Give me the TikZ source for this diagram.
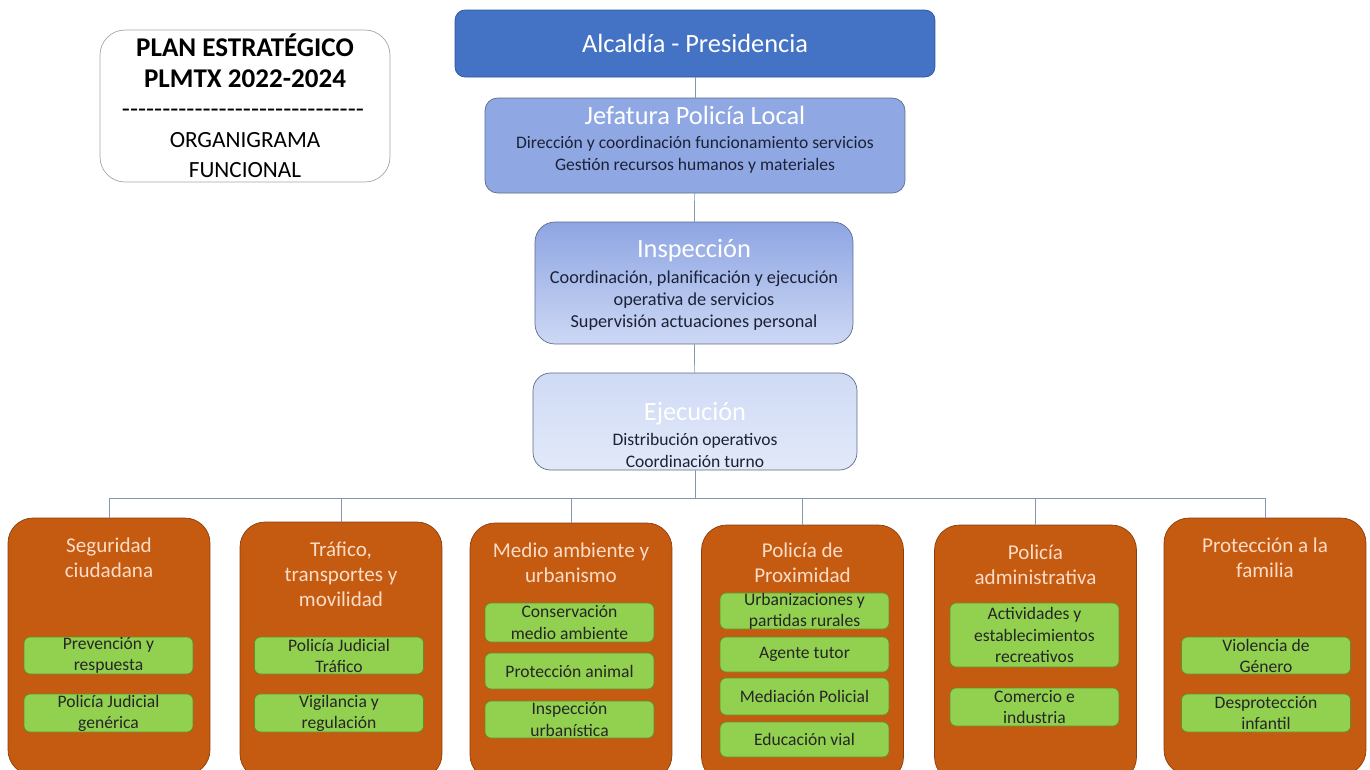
\documentclass[tikz,border=0pt]{standalone}
\usepackage{fontspec}
\setmainfont{Carlito}
\newfontfamily\dashfont[Ligatures=TeXOff]{Carlito}
\usepackage{tikz}
\usetikzlibrary{positioning}
\definecolor{orgblue}{HTML}{4472C4}
\definecolor{orgbluedark}{HTML}{2F5597}
\definecolor{orgjef}{HTML}{8FA8E3}
\definecolor{orginsptop}{HTML}{8EA5E3}
\definecolor{orginspbot}{HTML}{CDD8F4}
\definecolor{orgejetop}{HTML}{CFDAF5}
\definecolor{orgejebot}{HTML}{E2E9F9}
\definecolor{orgframe}{HTML}{5B6B8C}
\definecolor{orgtext}{HTML}{1C2236}
\definecolor{orgorange}{HTML}{C55A11}
\definecolor{orgorangedark}{HTML}{8C3D0A}
\definecolor{orgpeach}{HTML}{FBDCC6}
\definecolor{orggreen}{HTML}{92D050}
\definecolor{orggreendark}{HTML}{5F8F2E}
\definecolor{orgconn}{HTML}{8497B0}

\tikzset{
  planbox/.style={draw=gray!70, fill=white, rounded corners=0.5cm, minimum width=5.8cm, minimum height=3.04cm},
  plantext/.style={inner sep=0pt, anchor=base},
  headbox/.style={draw=orgframe, thin, rounded corners=0.25cm},
  headtext/.style={align=center, text=orgtext, inner sep=0pt, font=\fontsize{10}{12.5}\selectfont},
  areabox/.style={draw=orgorangedark, fill=orgorange, rounded corners=0.5cm, minimum width=4.04cm, minimum height=5.14cm},
  areatitle/.style={anchor=north, align=center, text=orgpeach, font=\fontsize{12}{14.3}\selectfont},
  taskbox/.style={draw=orggreendark, fill=orggreen, rounded corners=0.12cm, minimum width=3.38cm, align=center,
    inner sep=0pt, text=black!85, font=\fontsize{10}{12}\selectfont},
  conn/.style={draw=orgconn, thin}
}
\newcommand{\boxtitle}{\fontsize{15}{17}\selectfont\color{white}}
\newcommand{\boxbody}{\fontsize{10}{12.5}\selectfont\color{orgtext}}

\begin{document}
\begin{tikzpicture}[x=0.02cm, y=-0.02cm]
    \useasboundingbox (0,0) rectangle (1370,769);
    \clip (0,0) rectangle (1370,769);

    % Plan box
    \node[planbox] (plan) at (245,106) {};
    \node[plantext, font=\fontsize{15.4}{18}\selectfont\bfseries] (plan1) at (245,56) {PLAN ESTRATÉGICO};
    \node[plantext, font=\fontsize{15.4}{18}\selectfont\bfseries] (plan2) at (245,87) {PLMTX 2022-2024};
    \node[plantext, font=\fontsize{15}{18}\selectfont\dashfont] (plan3) at (243,117) {------------------------------};
    \node[plantext, font=\fontsize{13.2}{16}\selectfont] (plan4) at (245,147.5) {ORGANIGRAMA};
    \node[plantext, font=\fontsize{13.2}{16}\selectfont] (plan5) at (245,177.5) {FUNCIONAL};

    % Command chain
    \node[headbox, draw=orgbluedark, fill=orgblue, rounded corners=0.2cm, minimum width=9.6cm, minimum height=1.34cm,
      font=\fontsize{15}{17}\selectfont, text=white] (alcaldia) at (695,43.5) {Alcaldía - Presidencia};

    \node[headbox, fill=orgjef, minimum width=8.4cm, minimum height=1.9cm] (jefatura) at (695,145.5) {};
    \node[headtext] (jefatura text) at (695,140)
      {\boxtitle Jefatura Policía Local\\[1pt]\boxbody Dirección y coordinación funcionamiento servicios\\Gestión recursos humanos y materiales};

    \node[headbox, top color=orginsptop, bottom color=orginspbot, rounded corners=0.4cm, minimum width=6.36cm, minimum height=2.44cm] (inspeccion) at (694,283) {};
    \node[headtext, font=\fontsize{10.4}{12.5}\selectfont] (inspeccion text) at (694,285)
      {\boxtitle Inspección\\[2.5pt]\fontsize{10.4}{12.5}\selectfont\color{orgtext} Coordinación, planificación y ejecución\\operativa de servicios\\Supervisión actuaciones personal};

    \node[headbox, top color=orgejetop, bottom color=orgejebot, rounded corners=0.35cm, minimum width=6.48cm, minimum height=1.94cm] (ejecucion) at (695,421.5) {};
    \node[headtext] (ejecucion text) at (695,435)
      {\boxtitle Ejecución\\[2pt]\boxbody Distribución operativos\\Coordinación turno};

    % Areas
    \node[areabox] (seguridad) at (109,646.5) {};
    \node[areabox] (trafico) at (341,650.5) {};
    \node[areabox] (medio) at (571,651.5) {};
    \node[areabox] (proximidad) at (802.5,653.5) {};
    \node[areabox] (administrativa) at (1035.5,653.5) {};
    \node[areabox] (familia) at (1265,646.5) {};

    \node[areatitle, below=8pt of seguridad.north] (t1) {Seguridad\\ciudadana};
    \node[areatitle, below=8pt of trafico.north] (t2) {Tráfico,\\transportes y\\movilidad};
    \node[areatitle, below=8pt of medio.north] (t3) {Medio ambiente y\\urbanismo};
    \node[areatitle, below=7pt of proximidad.north] (t4) {Policía de\\Proximidad};
    \node[areatitle, below=8pt of administrativa.north] (t5) {Policía\\administrativa};
    \node[areatitle, below=8pt of familia.north] (t6) {Protección a la\\familia};

    % Tasks
    \node[taskbox, minimum height=0.74cm] (s1) at (108.5,655.5) {Prevención y\\respuesta};
    \node[taskbox, minimum height=0.76cm] (s2) at (108.5,713) {Policía Judicial\\genérica};

    \node[taskbox, minimum height=0.74cm] (r1) at (339,655.5) {Policía Judicial\\Tráfico};
    \node[taskbox, minimum height=0.76cm] (r2) at (339,713) {Vigilancia y\\regulación};

    \node[taskbox, minimum height=0.78cm] (m1) at (569.5,622.5) {Conservación\\medio ambiente};
    \node[taskbox, minimum height=0.72cm] (m2) at (569.5,671) {Protección animal};
    \node[taskbox, minimum height=0.74cm] (m3) at (569.5,719.5) {Inspección\\urbanística};

    \node[taskbox, minimum height=0.72cm] (p1) at (804.5,611) {Urbanizaciones y\\partidas rurales};
    \node[taskbox, minimum height=0.70cm] (p2) at (804.5,654.5) {Agente tutor};
    \node[taskbox, minimum height=0.74cm] (p3) at (804.5,696.5) {Mediación Policial};
    \node[taskbox, minimum height=0.70cm] (p4) at (804.5,739.5) {Educación vial};

    \node[taskbox, minimum height=1.28cm] (a1) at (1034.5,635) {Actividades y\\establecimientos\\recreativos};
    \node[taskbox, minimum height=0.76cm] (a2) at (1034.5,707) {Comercio e\\industria};

    \node[taskbox, minimum height=0.74cm] (f1) at (1266,655.5) {Violencia de\\Género};
    \node[taskbox, minimum height=0.76cm] (f2) at (1266,713) {Desprotección\\infantil};

    % Connectors
    \draw[conn] (alcaldia) -- (jefatura);
    \draw[conn] (jefatura) -- (inspeccion);
    \draw[conn] (inspeccion) -- (ejecucion);
    \coordinate (bus) at (695,498);
    \draw[conn] (ejecucion.south) -- (bus);
    \draw[conn] (seguridad.north) |- (bus) -| (familia.north);
    \foreach \a in {trafico,medio,proximidad,administrativa}
      \draw[conn] (\a.north) -- (\a.north |- bus);
\end{tikzpicture}
\end{document}
